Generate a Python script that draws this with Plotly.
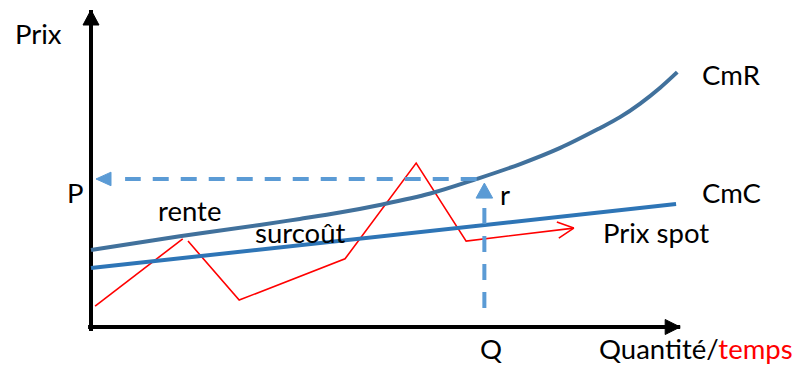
import math
import plotly.graph_objects as go

# ---------------- data (schematic units: quantity 0-100, price 0-100) ----------------
cmr_q = [0, 15.1, 28.7, 35.5, 42.3, 49.1, 57.7, 65.6, 73.0, 79.8, 86.6, 89.97, 93.4, 96.8, 99.7]
cmr_p = [24.3, 28.6, 32.2, 34.1, 36.1, 38.5, 42.1, 46.7, 51.4, 56.5, 62.8, 66.2, 70.5, 75.5, 80.4]

cmc_q = [0, 99.5]
cmc_p = [18.6, 38.8]

spot1_q = [0.7, 15.6]
spot1_p = [6.6, 27.8]
spot2_q = [16.5, 25.2, 43.2, 55.3, 63.8, 82.1]
spot2_p = [27.1, 8.5, 21.5, 51.7, 27.1, 31.2]

p_line_q = [65.6, 5.8]      # dashed horizontal towards P
p_level = 46.7
p_tip_q = 0.85
q_line_p = [6.0, 40.7]      # dashed vertical (rent r) at Q
q_level = 66.9
q_tip_p = 45.4

yaxis_p = [-1.3, 100.0]
xaxis_q = [-0.5, 100.2]

labels = {
    "Prix": (-13.3, 92.6, "left"),
    "P": (-2.6, 42.3, "center"),
    "rente": (16.75, 36.6, "center"),
    "surcoût": (35.5, 29.7, "center"),
    "r": (69.2, 41.9, "left"),
    "CmR": (103.6, 79.8, "left"),
    "CmC": (103.6, 42.4, "left"),
    "Prix spot": (86.7, 29.8, "left"),
    "Q": (68.0, -6.9, "center"),
}
axis_label = ("Quantité/", "temps")
axis_label_pos = (86.0, -6.9)

# ---------------- scale (pixels per unit) ----------------
W, H = 801, 367
OX, OY = 91, 327
SX, SY = 5.88, 3.17

BLACK = "#000000"
CMR_COL = "#41719C"
CMC_COL = "#2E75B6"
DASH_COL = "#5B9BD5"
RED = "#FF0000"


def to_px(q, p):
    return OX + q * SX, OY - p * SY


def to_data(x, y):
    return (x - OX) / SX, (OY - y) / SY


def head(tip, prev, length, half_w):
    tx, ty = to_px(*tip)
    px_, py_ = to_px(*prev)
    dx, dy = tx - px_, ty - py_
    n = math.hypot(dx, dy)
    ux, uy = dx / n, dy / n
    bx, by = tx - ux * length, ty - uy * length
    nx, ny = -uy, ux
    pts = [(tx, ty), (bx + nx * half_w, by + ny * half_w), (bx - nx * half_w, by - ny * half_w), (tx, ty)]
    d = [to_data(x, y) for x, y in pts]
    return [a for a, _ in d], [b for _, b in d]


def chevron(tip, prev, length, ang_deg):
    tx, ty = to_px(*tip)
    px_, py_ = to_px(*prev)
    base = math.atan2(py_ - ty, px_ - tx)
    a = math.radians(ang_deg)
    p1 = (tx + length * math.cos(base + a), ty + length * math.sin(base + a))
    p2 = (tx + length * math.cos(base - a), ty + length * math.sin(base - a))
    d = [to_data(*p1), to_data(tx, ty), to_data(*p2)]
    return [a for a, _ in d], [b for _, b in d]


fig = go.Figure()


def line(x, y, color, width, dash=None, shape="linear"):
    fig.add_trace(go.Scatter(x=x, y=y, mode="lines", hoverinfo="skip", showlegend=False,
                             line=dict(color=color, width=width, dash=dash, shape=shape)))


def poly(x, y, color):
    fig.add_trace(go.Scatter(x=x, y=y, mode="lines", fill="toself", fillcolor=color,
                             hoverinfo="skip", showlegend=False, line=dict(color=color, width=1)))


# axes
line([0, 0], yaxis_p, BLACK, 4)
line(xaxis_q, [0, 0], BLACK, 4)
hx, hy = head((0, yaxis_p[1]), (0, 0), 15, 8)
poly(hx, hy, BLACK)
hx, hy = head((xaxis_q[1], 0), (0, 0), 15, 7.5)
poly(hx, hy, BLACK)

# spot price (red)
line(spot1_q, spot1_p, RED, 1.6)
line(spot2_q, spot2_p, RED, 1.6)
cx, cy = chevron((spot2_q[-1], spot2_p[-1]), (spot2_q[-2], spot2_p[-2]), 18, 27)
line(cx, cy, RED, 1.6)

# cost curves
line(cmc_q, cmc_p, CMC_COL, 4)
line(cmr_q, cmr_p, CMR_COL, 4, shape="spline")

# dashed arrows
line(p_line_q, [p_level, p_level], DASH_COL, 4, dash="16px,12px")
hx, hy = head((p_tip_q, p_level), (p_line_q[0], p_level), 15, 6.8)
poly(hx, hy, DASH_COL)
line([q_level, q_level], q_line_p, DASH_COL, 4, dash="16px,12px")
hx, hy = head((q_level, q_tip_p), (q_level, q_line_p[0]), 15, 8.3)
poly(hx, hy, DASH_COL)

FONT = dict(family="Lato, 'Open Sans', sans-serif", size=27.5, color=BLACK)
ann = []
for txt, (x, y, anchor) in labels.items():
    ann.append(dict(x=x, y=y, text=txt, xanchor=anchor, yanchor="middle", showarrow=False, font=FONT))
ann.append(dict(x=axis_label_pos[0], y=axis_label_pos[1],
                text=axis_label[0] + '<span style="color:#FF0000">' + axis_label[1] + '</span>',
                xanchor="left", yanchor="middle", showarrow=False, font=FONT))

fig.update_layout(
    width=W, height=H, autosize=False,
    margin=dict(l=0, r=0, t=0, b=0),
    paper_bgcolor="white", plot_bgcolor="white",
    xaxis=dict(range=[(0 - OX) / SX, (W - OX) / SX], visible=False, fixedrange=True),
    yaxis=dict(range=[(OY - H) / SY, OY / SY], visible=False, fixedrange=True),
    annotations=ann,
)

fig.write_html("out.html", config={"displayModeBar": False},
               post_script="document.body.style.margin='0';")
